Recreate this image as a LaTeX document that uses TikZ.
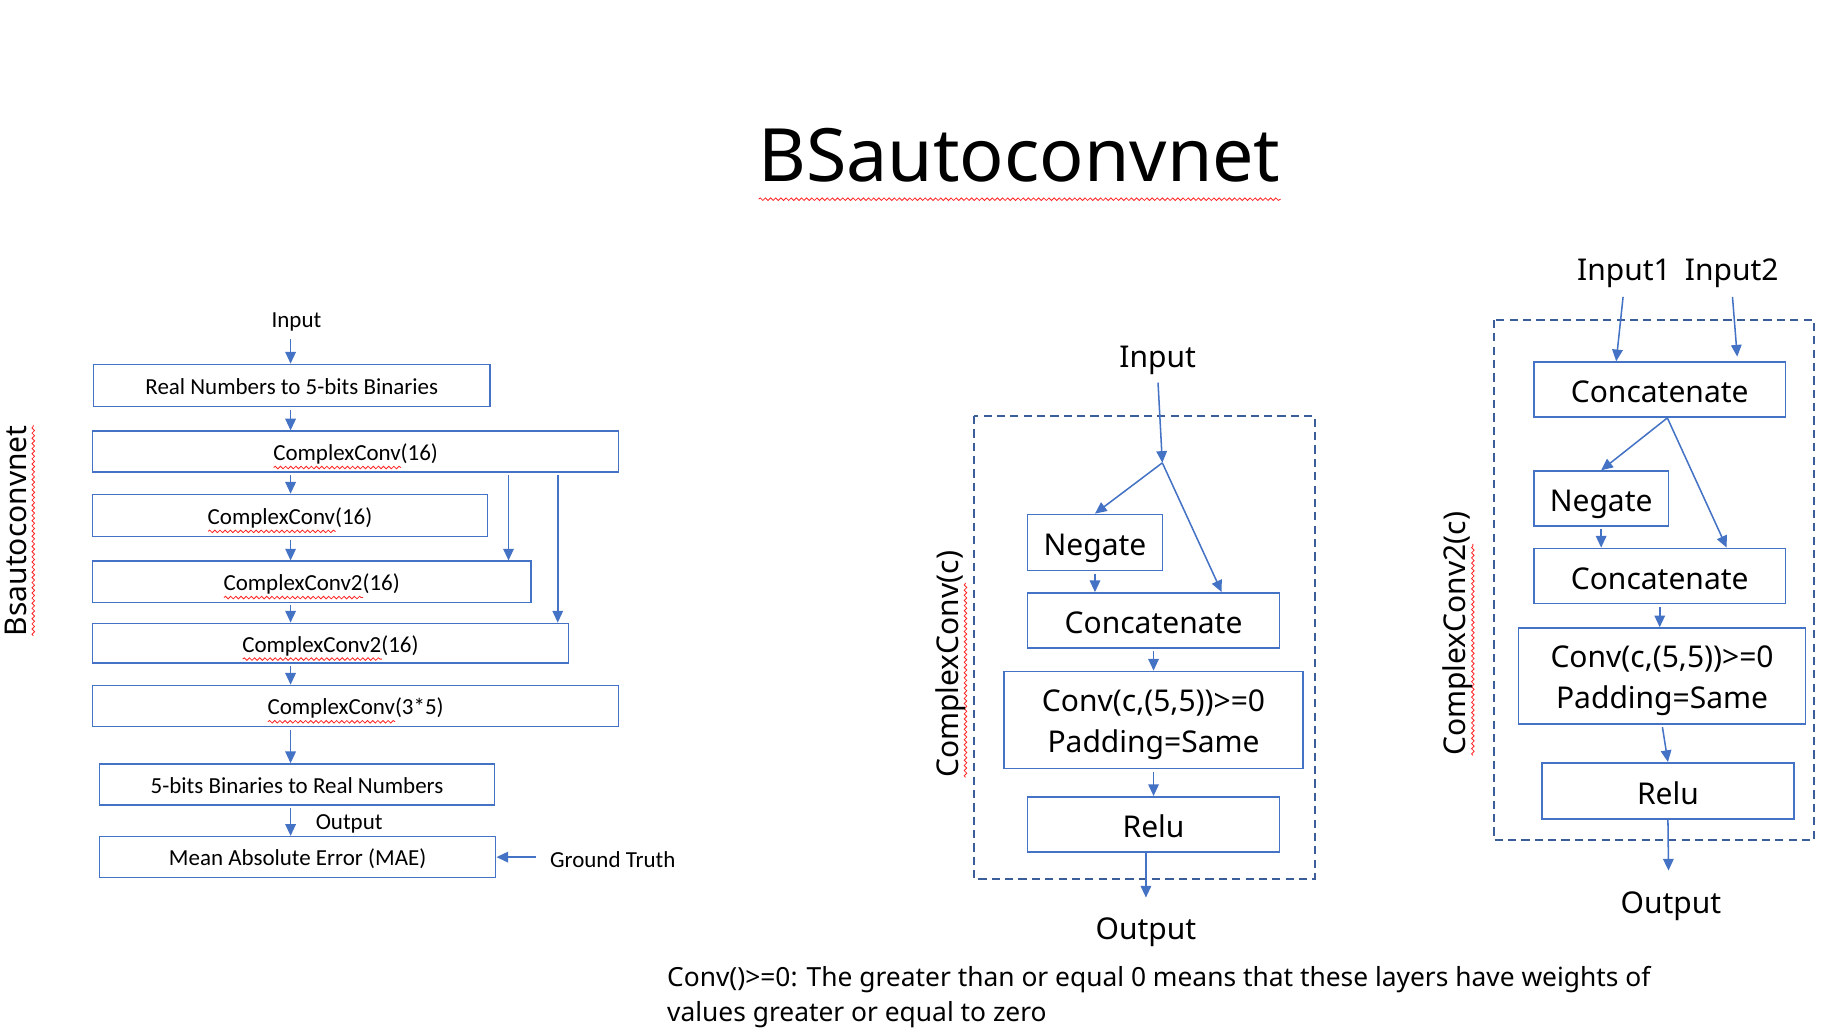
\documentclass[tikz,border=0pt]{standalone}
\usepackage{fontspec}
\setmainfont{Noto Sans}
\newfontfamily\calfont{Carlito}
\usetikzlibrary{arrows.meta,calc,decorations.pathmorphing}
\definecolor{bblue}{HTML}{4472C4}
\definecolor{dblue}{HTML}{3B5E9B}
\newsavebox\splbox
\newcommand\spl[2][3pt]{\sbox\splbox{#2}\rlap{\tikz[baseline=0pt,x=1pt,y=1pt]{\path (0,0); \draw[red!85!white,line width=0.35pt,decorate,decoration={snake,amplitude=0.55pt,segment length=2.2pt}] (0,-#1) -- (\wd\splbox,-#1);}}\usebox\splbox}
\begin{document}
\begin{tikzpicture}[x=0.5pt,y=-0.5pt,
  box/.style={draw=bblue,line width=0.65pt,inner sep=0pt,align=center},
  sz/.style 2 args={minimum width=#1*0.5pt,minimum height=#2*0.5pt},
  lf/.style={font=\calfont\fontsize{9.8}{12}\selectfont},
  rf/.style={font=\fontsize{12.8}{17.5}\selectfont},
  lbox/.style={box,lf,text height=8.5pt,text depth=1pt},
  rbox/.style={box,rf,text height=12.4pt,text depth=1pt},
  lbl/.style={inner sep=0pt},
  arr/.style={draw=bblue,line width=0.65pt,-{Triangle[length=5pt,width=4.5pt]}},
  dbox/.style={draw=dblue,line width=0.85pt,dash pattern=on 3.5pt off 2.2pt}
]
\useasboundingbox (0,0) rectangle (1567.8,879.1);

% title
\node[lbl,anchor=base,font=\fontsize{31.4}{38}\selectfont] (title) at (870,155) {\spl[7.5pt]{BSautoconvnet}};

% ---------------- left network ----------------
\node[lbl,rotate=90,font=\fontsize{12.8}{15}\selectfont] (lname) at (17,453) {\spl{Bsautoconvnet}};
\node[lbl,lf,anchor=base] (lin) at (253,279.3) {Input};
\node[lbox,sz={338}{36}] (b1) at (249,329) {Real Numbers to 5-bits Binaries};
\node[lbox,sz={449}{35}] (b2) at (303.5,385.5) {\spl{ComplexConv}(16)};
\node[lbox,sz={337}{36}] (b3) at (247.5,440) {\spl{ComplexConv}(16)};
\node[lbox,sz={374}{35}] (b4) at (266,496.5) {\spl{ComplexConv2}(16)};
\node[lbox,sz={406}{34}] (b5) at (282,549) {\spl{ComplexConv2}(16)};
\node[lbox,sz={449}{35}] (b6) at (303.5,602.5) {\spl{ComplexConv}(3*5)};
\node[lbox,sz={337}{35}] (b7) at (253.5,669.5) {5-bits Binaries to Real Numbers};
\node[lbox,sz={338}{35}] (b8) at (254,731.5) {Mean Absolute Error (MAE)};
\node[lbl,lf,anchor=base] (lout) at (298,708) {Output};
\node[lbl,lf,anchor=base] (gt) at (523,740) {Ground Truth};

\coordinate (ax) at (248,0);
\coordinate (k1) at (434,0);
\coordinate (k2) at (476,0);
\draw[arr,shorten <=3.3pt] (lin.south -| ax) -- (b1.north -| ax);
\draw[arr,shorten <=1pt] (b1.south -| ax) -- (b2.north -| ax);
\draw[arr,shorten <=1pt] (b2.south -| ax) -- (b3.north -| ax);
\draw[arr,shorten <=1pt] (b3.south -| ax) -- (b4.north -| ax);
\draw[arr,shorten <=1pt] (b4.south -| ax) -- (b5.north -| ax);
\draw[arr,shorten <=1pt] (b5.south -| ax) -- (b6.north -| ax);
\draw[arr,shorten <=1pt] (b6.south -| ax) -- (b7.north -| ax);
\draw[arr,shorten <=1pt] (b7.south -| ax) -- (b8.north -| ax);
\draw[arr,shorten <=1pt] (b2.south -| k1) -- (b4.north -| k1);
\draw[arr,shorten <=1pt] (b2.south -| k2) -- (b5.north -| k2);
\draw[arr,shorten <=6pt] (gt.west |- b8.east) -- (b8.east);

% ---------------- ComplexConv(c) ----------------
\draw[dbox] (831,355) rectangle (1122,750);
\node[lbl,rotate=90,rf] (mname) at (812,567) {\spl{ComplexConv}(c)};
\node[lbl,rf,anchor=base] (min) at (988,314) {Input};
\coordinate (s1) at (992,395);
\node[rbox,sz={115}{48}] (neg1) at (934.5,463) {Negate};
\node[rbox,sz={215}{47}] (cat1) at (984.5,529.5) {Concatenate};
\node[box,rf,sz={255}{83}] (conv1) at (984.5,614.5) {\rule{0pt}{16pt}Conv(c,(5,5))>=0\\Padding=Same\rule[-5.7pt]{0pt}{5.7pt}};
\node[rbox,sz={215}{47}] (relu1) at (984.5,703.5) {Relu};
\coordinate (o1) at (978,766);
\node[lbl,rf,anchor=base] (mout) at (978,801.5) {Output};

\draw[arr,shorten <=3pt] (min.south) -- (s1);
\draw[arr] (s1) -- (neg1.north);
\draw[arr] (s1) -- ([xshift=-25pt]cat1.north east);
\draw[arr,shorten <=1pt] (neg1.south) -- (neg1.south |- cat1.north);
\draw[arr,shorten <=1pt] (cat1.south) -- (conv1.north);
\draw[arr,shorten <=1pt] (conv1.south) -- (relu1.north);
\draw[arr] (relu1.south -| o1) -- (o1);

% ---------------- ComplexConv2(c) ----------------
\draw[dbox] (1275,273) rectangle (1548,717);
\node[lbl,rotate=90,rf] (rname) at (1245,541) {\spl{ComplexConv2}(c)};
\node[lbl,rf,anchor=base] (rin1) at (1386,239.5) {Input1};
\node[lbl,rf,anchor=base] (rin2) at (1478,239.5) {Input2};
\node[rbox,sz={215}{47}] (cat2a) at (1416.5,332.5) {Concatenate};
\node[rbox,sz={115}{47}] (neg2) at (1366.5,425.5) {Negate};
\node[rbox,sz={215}{47}] (cat2b) at (1416.5,491.5) {Concatenate};
\node[box,rf,sz={245}{82}] (conv2) at (1418.5,577) {\rule{0pt}{16pt}Conv(c,(5,5))>=0\\Padding=Same\rule[-5.7pt]{0pt}{5.7pt}};
\node[rbox,sz={215}{48}] (relu2) at (1423.5,675) {Relu};
\coordinate (o2) at (1424,743);
\node[lbl,rf,anchor=base] (rout) at (1426,779.5) {Output};

\draw[arr,shorten <=3.7pt] (rin1.south) -- ([xshift=35.5pt]cat2a.north west);
\draw[arr,shorten <=3.7pt] (rin2.south) -- ([xshift=-21pt,yshift=2pt]cat2a.north east);
\draw[arr] ([xshift=3.25pt]cat2a.south) -- (neg2.north);
\draw[arr] ([xshift=3.25pt]cat2a.south) -- ([xshift=-25.5pt]cat2b.north east);
\draw[arr,shorten <=1pt] (neg2.south) -- (neg2.south |- cat2b.north);
\draw[arr,shorten <=1pt] (cat2b.south) -- (cat2b.south |- conv2.north);
\draw[arr,shorten <=1pt] (conv2.south) -- (relu2.north);
\draw[arr] (relu2.south) -- (o2);

% note
\node[lbl,anchor=base west,font=\fontsize{11.25}{16}\selectfont] (note1) at (569,842) {Conv()>=0: The greater than or equal 0 means that these layers have weights of};
\node[lbl,anchor=base west,font=\fontsize{11.25}{16}\selectfont] (note2) at (569,872) {values greater or equal to zero};
\end{tikzpicture}
\end{document}
